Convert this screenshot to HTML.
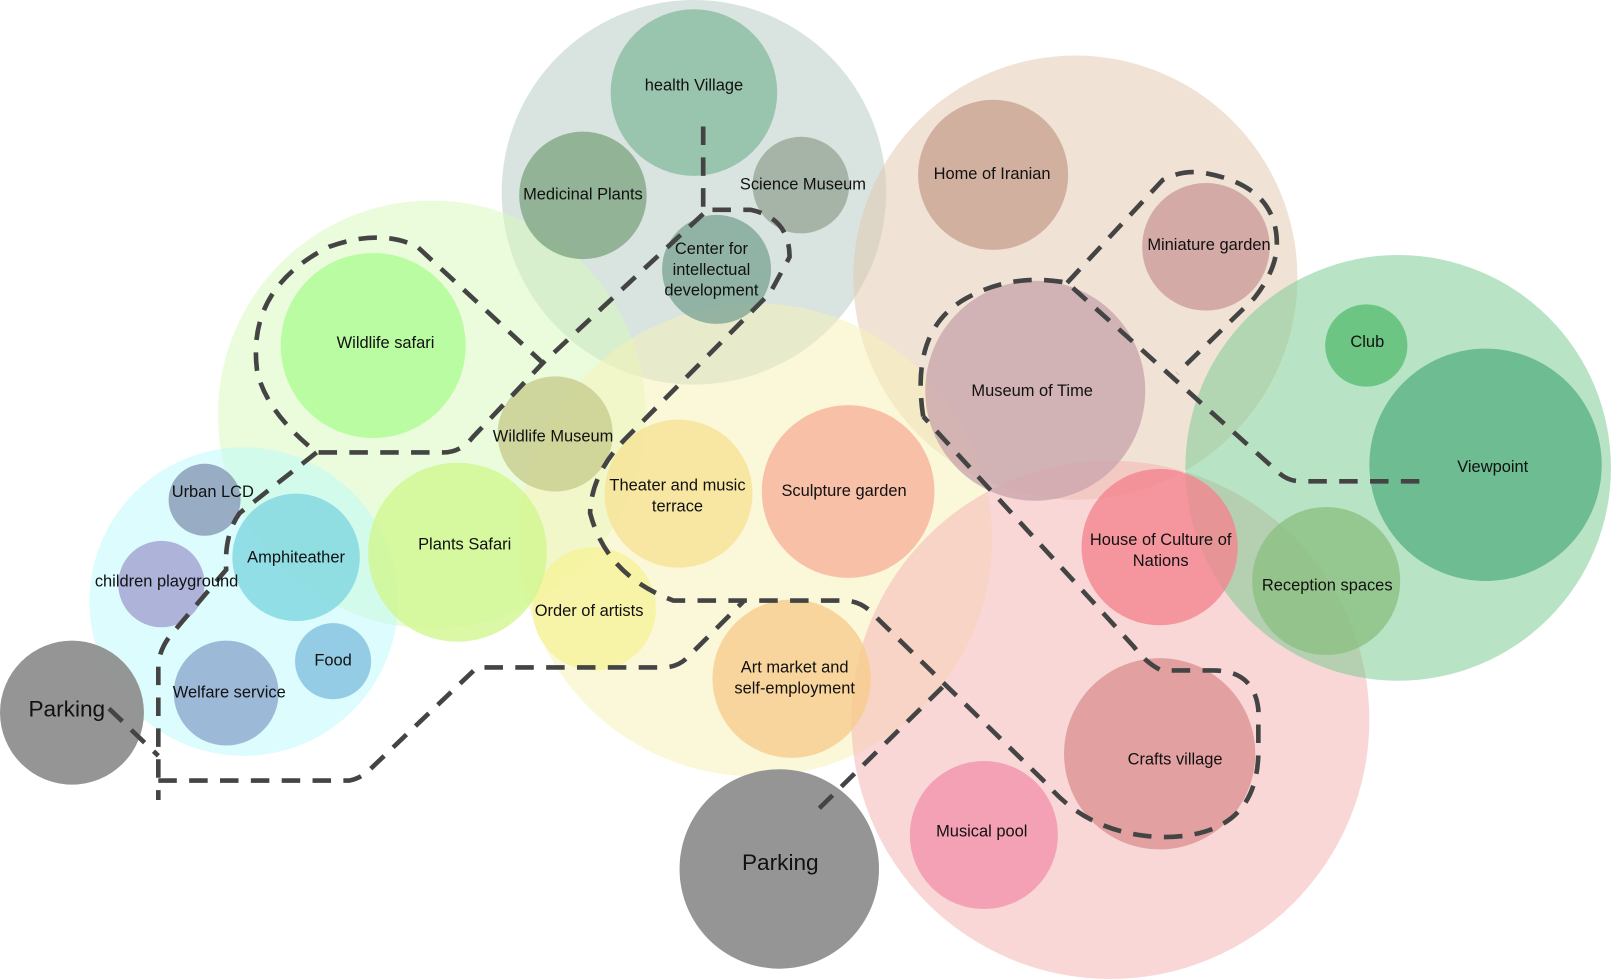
<!DOCTYPE html>
<html><head><meta charset="utf-8"><style>
html,body{margin:0;padding:0;background:#fff;}
svg{display:block;}
text{font-family:"Liberation Sans",sans-serif;font-size:16px;fill:#111;text-anchor:middle;dominant-baseline:middle;}
</style></head><body>
<svg width="1612" height="980" viewBox="0 0 1568 953" preserveAspectRatio="none" xmlns="http://www.w3.org/2000/svg">
<g fill-opacity="0.5">
<circle cx="675" cy="187" r="187" fill="#b4cac1"/>
<circle cx="1046" cy="270" r="216" fill="#e1c7ad"/>
<circle cx="420" cy="403" r="208" fill="#d7f9b9"/>
<circle cx="735" cy="525" r="230" fill="#f7f2b5"/>
<circle cx="237" cy="585" r="150" fill="#b9f9fb"/>
<circle cx="1080" cy="700" r="252" fill="#f3afaf"/>
<circle cx="1360" cy="455" r="207" fill="#71c98b"/>
</g>
<g fill-opacity="0.8">
<circle cx="675" cy="90" r="81" fill="#88bba0"/>
<circle cx="567" cy="190" r="62" fill="#7fa683"/>
<circle cx="779" cy="180" r="47" fill="#98a898"/>
<circle cx="697" cy="262" r="53" fill="#7ea696"/>
<circle cx="966" cy="170" r="73" fill="#c9a291"/>
<circle cx="1173" cy="240" r="62" fill="#cc9b98"/>
<circle cx="1007" cy="380" r="107" fill="#cba6ad"/>
<circle cx="1329" cy="336" r="40" fill="#5abd73"/>
<circle cx="1445" cy="452" r="113" fill="#5ab284"/>
<circle cx="1290" cy="565" r="72" fill="#8cc083"/>
<circle cx="1128" cy="532" r="76" fill="#f48590"/>
<circle cx="1128" cy="733" r="93" fill="#dc9292"/>
<circle cx="957" cy="812" r="72" fill="#f393ad"/>
<circle cx="770" cy="660" r="77" fill="#f7cc8c"/>
<circle cx="825" cy="478" r="84" fill="#f7b299"/>
<circle cx="660" cy="480" r="72" fill="#f6e295"/>
<circle cx="578" cy="592" r="60" fill="#f6f39a"/>
<circle cx="540" cy="422" r="56" fill="#c8cc8d"/>
<circle cx="445" cy="537" r="87" fill="#d1f68f"/>
<circle cx="363" cy="336" r="90" fill="#acfb94"/>
<circle cx="199" cy="486" r="35" fill="#8799b5"/>
<circle cx="288" cy="542" r="62" fill="#80d6e0"/>
<circle cx="157" cy="568" r="42" fill="#a3a0cf"/>
<circle cx="324" cy="643" r="37" fill="#82bfdf"/>
<circle cx="220" cy="674" r="51" fill="#8ca7ce"/>
</g>
<circle cx="758" cy="845" r="97" fill="#8f8f8f" fill-opacity="0.95"/>
<circle cx="70" cy="693" r="70" fill="#8f8f8f" fill-opacity="0.95"/>
<g fill="none" stroke="#444" stroke-width="4.5" stroke-dasharray="18 12">
<path d="M684 123 L684 204 L730 204 Q768 212 768 250 L749 285 L610 425 Q575 460 574 499 Q590 560 655 584 L824 584 Q840 586 850 598 L1018 762 Q1060 812 1131 814 Q1224 814 1224 730 L1224 690 Q1220 652 1180 652 L1130 652 Q1115 645 1103 629 L898 405"/>
<path d="M898 405 Q885 320 940 290 Q985 265 1038 275 L1242 458 Q1252 468 1265 468 L1382 468"/>
<path d="M1038 275 L1131 175 Q1150 165 1170 168 Q1242 180 1242 237 Q1242 262 1220 290 L1145 363"/>
<path d="M684 208 L528 353 L406 240 Q370 222 320 240 Q240 280 250 360 Q258 400 308 440 L431 440 Q448 440 460 425 L528 353"/>
<path d="M308 440 L233 499 Q218 520 220 554 L170 613 Q154 630 154 650 L154 778"/>
<path d="M106 689 L154 735"/>
<path d="M154 759 L340 759 Q350 757 358 750 L464 649 L645 649 Q660 649 670 638 L723 585"/>
<path d="M797 786 L921 664"/>
</g>
<text x="675" y="84">health Village</text>
<text x="567" y="190">Medicinal Plants</text>
<text x="781" y="180">Science Museum</text>
<text x="692" y="243">Center for</text>
<text x="692" y="263">intellectual</text>
<text x="692" y="283">development</text>
<text x="965" y="170">Home of Iranian</text>
<text x="1176" y="239">Miniature garden</text>
<text x="1004" y="381">Museum of Time</text>
<text x="1330" y="333">Club</text>
<text x="1452" y="455">Viewpoint</text>
<text x="1291" y="570">Reception spaces</text>
<text x="1129" y="526">House of Culture of</text>
<text x="1129" y="546">Nations</text>
<text x="1143" y="739">Crafts village</text>
<text x="955" y="809">Musical pool</text>
<text x="773" y="650">Art market and</text>
<text x="773" y="670">self-employment</text>
<text x="821" y="478">Sculpture garden</text>
<text x="659" y="473">Theater and music</text>
<text x="659" y="493">terrace</text>
<text x="573" y="595">Order of artists</text>
<text x="538" y="425">Wildlife Museum</text>
<text x="452" y="530">Plants Safari</text>
<text x="375" y="334">Wildlife safari</text>
<text x="207" y="479">Urban LCD</text>
<text x="288" y="543">Amphiteather</text>
<text x="162" y="566">children playground</text>
<text x="324" y="643">Food</text>
<text x="223" y="674">Welfare service</text>
<text x="65" y="691" style="font-size:22px">Parking</text>
<text x="759" y="840" style="font-size:22px">Parking</text>
</svg>
</body></html>
